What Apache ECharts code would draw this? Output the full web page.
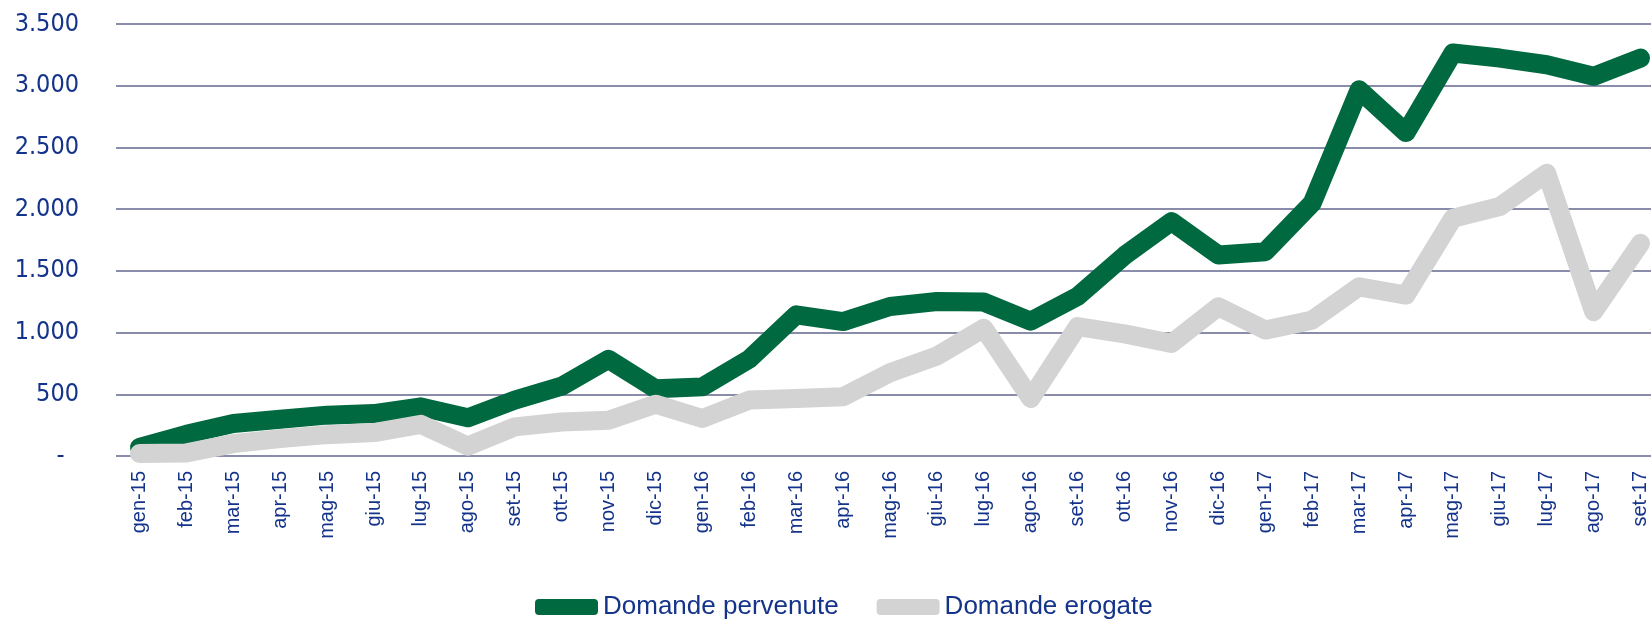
<!DOCTYPE html>
<html>
<head>
<meta charset="utf-8">
<script src="https://cdn.jsdelivr.net/npm/echarts@6/dist/echarts.min.js"></script>
<style>
  html, body { margin: 0; padding: 0; background: #fff; overflow: hidden; }
  /* più largo della finestra: l'ultima etichetta resta tagliata come nell'originale */
  #main { width: 1670px; height: 619px; }
</style>
</head>
<body>
<div id="main"></div>
<script>
// mesi
const mesi = ['gen-15','feb-15','mar-15','apr-15','mag-15','giu-15','lug-15','ago-15','set-15','ott-15','nov-15','dic-15',
  'gen-16','feb-16','mar-16','apr-16','mag-16','giu-16','lug-16','ago-16','set-16','ott-16','nov-16','dic-16',
  'gen-17','feb-17','mar-17','apr-17','mag-17','giu-17','lug-17','ago-17','set-17'];

const pervenute = [70, 176, 263, 298, 331, 344, 398, 309, 453, 566, 783, 545,
  560, 785, 1144, 1089, 1211, 1252, 1247, 1092, 1293, 1624, 1899, 1628,
  1655, 2048, 2967, 2620, 3265, 3224, 3170, 3076, 3224];

const erogate = [20, 25, 100, 141, 173, 190, 257, 80, 236, 276, 290, 420,
  304, 453, 466, 480, 675, 810, 1035, 466, 1049, 989, 912, 1209,
  1020, 1101, 1371, 1304, 1926, 2021, 2291, 1169, 1723];

const blu = '#14338A';

let myChart = echarts.init(document.getElementById('main'));
myChart.setOption({
  animation: false,
  grid: { left: 116, right: 6, top: 24, bottom: 163 },
  legend: {
    left: 530,
    top: 589,
    icon: 'roundRect',
    itemWidth: 63,
    itemHeight: 16,
    itemGap: 38,
    textStyle: { fontFamily: "'Liberation Sans', Arial, sans-serif", fontSize: 26, color: blu },
    data: ['Domande pervenute', 'Domande erogate']
  },
  xAxis: {
    type: 'category',
    data: mesi,
    axisLine: { show: false },
    axisTick: { show: false },
    axisLabel: {
      rotate: 90,
      margin: 15,
      interval: 0,
      fontFamily: "'Liberation Sans', Arial, sans-serif",
      fontSize: 20,
      color: blu
    }
  },
  yAxis: {
    type: 'value',
    min: 0,
    max: 3500,
    interval: 500,
    axisLabel: {
      margin: 37,
      fontFamily: "'DejaVu Sans Condensed', 'DejaVu Sans', sans-serif",
      fontSize: 25,
      color: blu,
      formatter: function (v) {
        if (v === 0) return '-  ';
        return v >= 1000 ? Math.floor(v / 1000) + '.' + String(v % 1000).padStart(3, '0') : String(v);
      }
    },
    splitLine: { lineStyle: { color: '#8A8DAA', width: 2 } }
  },
  series: [
    {
      name: 'Domande pervenute',
      type: 'line',
      data: pervenute,
      symbol: 'none',
      itemStyle: { color: '#006940' },
      lineStyle: { color: '#006940', width: 19, cap: 'round', join: 'round' }
    },
    {
      name: 'Domande erogate',
      type: 'line',
      data: erogate,
      symbol: 'none',
      itemStyle: { color: '#D3D3D3' },
      lineStyle: { color: '#D3D3D3', width: 19, cap: 'round', join: 'round' }
    }
  ]
});
</script>
</body>
</html>
